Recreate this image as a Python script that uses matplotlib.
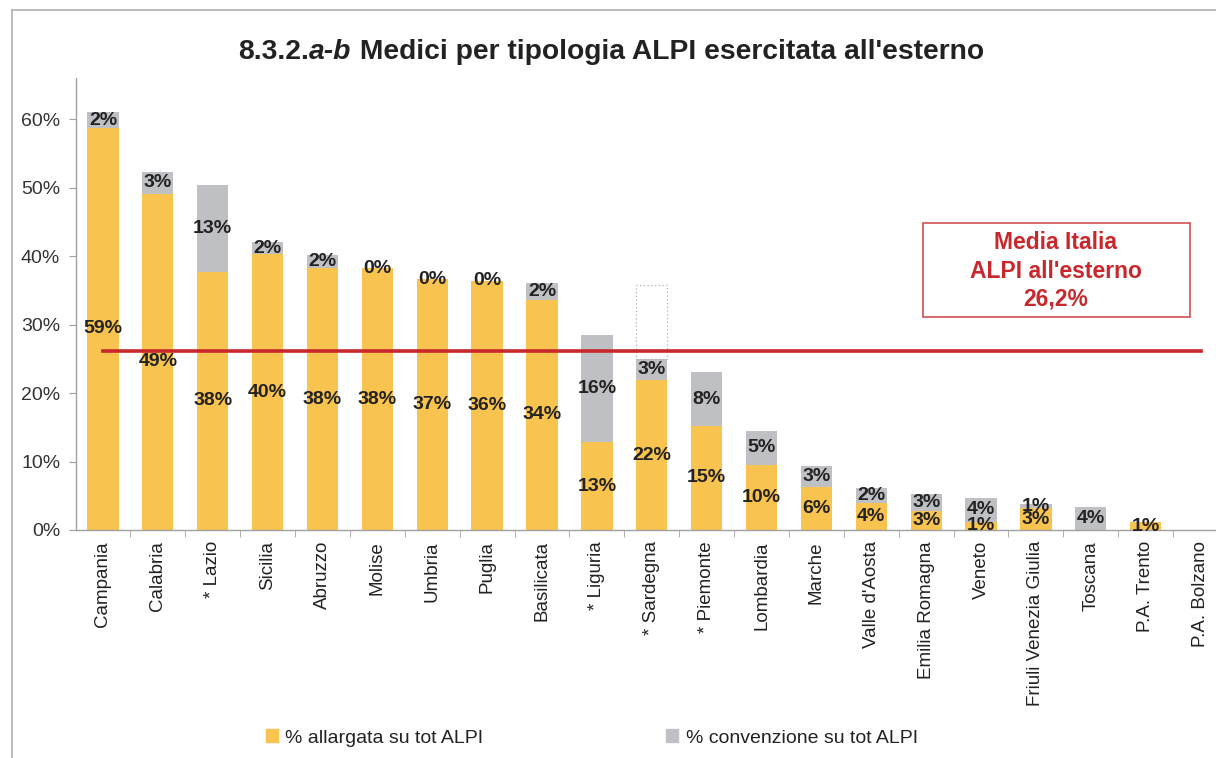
import matplotlib
matplotlib.use("Agg")
import matplotlib.pyplot as plt
from matplotlib.patches import Rectangle, Patch
from matplotlib.lines import Line2D

plt.rcParams['font.family'] = ['Liberation Sans', 'DejaVu Sans']

# data
regions = ["Campania", "Calabria", "* Lazio", "Sicilia", "Abruzzo", "Molise", "Umbria",
           "Puglia", "Basilicata", "* Liguria", "* Sardegna", "* Piemonte", "Lombardia",
           "Marche", "Valle d'Aosta", "Emilia Romagna", "Veneto", "Friuli Venezia Giulia",
           "Toscana", "P.A. Trento", "P.A. Bolzano"]
allargata = [58.7, 49.1, 37.7, 40.3, 38.2, 38.2, 36.6, 36.4, 33.6, 12.8, 21.9, 15.2, 9.5,
             6.3, 3.9, 2.8, 1.2, 3.2, 0.0, 1.1, 0.0]
convenzione = [2.3, 3.2, 12.7, 1.7, 1.9, 0.0, 0.0, 0.0, 2.4, 15.7, 3.0, 7.8, 5.0,
               3.05, 2.2, 2.5, 3.5, 0.6, 3.4, 0.0, 0.0]
allargata_lbl = [59, 49, 38, 40, 38, 38, 37, 36, 34, 13, 22, 15, 10, 6, 4, 3, 1, 3, None, 1, None]
convenzione_lbl = [2, 3, 13, 2, 2, 0, 0, 0, 2, 16, 3, 8, 5, 3, 2, 3, 4, 1, 4, None, None]
media_italia = 26.2
sardegna_outline = 35.8
yticks = [0, 10, 20, 30, 40, 50, 60]

YELLOW = "#F9C34F"
GRAY = "#BEC0C4"
RED = "#C8282C"
TXT = "#222222"

W, H = 1216, 758
fig = plt.figure(figsize=(W / 100, H / 100), dpi=100)

# axes placed in pixel terms
x0, x1 = 75.5, 1228.0
y_bottom, y_top = 530.0, 78.0
ax = fig.add_axes([x0 / W, (H - y_bottom) / H, (x1 - x0) / W, (y_bottom - y_top) / H])

x = list(range(len(regions)))
ax.bar(x, allargata, width=0.57, color=YELLOW, label="% allargata su tot ALPI")
ax.bar(x, convenzione, width=0.57, bottom=allargata, color=GRAY, label="% convenzione su tot ALPI")

# dotted outline above Sardegna
i_sar = regions.index("* Sardegna")
top_sar = allargata[i_sar] + convenzione[i_sar]
ax.add_patch(Rectangle((i_sar - 0.285, top_sar), 0.57, sardegna_outline - top_sar,
                       fill=False, edgecolor="#B0B0B0", linestyle=(0, (1, 2)), linewidth=0.9))

# data labels
for i in x:
    if allargata_lbl[i] is not None:
        ax.text(i, allargata[i] / 2, f"{allargata_lbl[i]}%", ha="center", va="center",
                fontsize=14, fontweight="bold", color=TXT, zorder=5)
    if convenzione_lbl[i] is not None:
        ax.text(i, allargata[i] + convenzione[i] / 2, f"{convenzione_lbl[i]}%", ha="center",
                va="center", fontsize=14, fontweight="bold", color=TXT, zorder=5)

# national average line
ax.plot([0, len(regions) - 1], [media_italia, media_italia], color=RED, linewidth=2.6, zorder=4)

ax.set_xlim(-0.5, len(regions) - 0.5)
ax.set_ylim(0, 66)
ax.set_yticks(yticks)
ax.set_yticklabels([f"{v}%" for v in yticks], fontsize=14, color="#333333")
ax.set_xticks(x)
ax.set_xticklabels(regions, rotation=90, fontsize=13.5, color="#222222")
ax.set_xticks([k + 0.5 for k in x[:-1]], minor=True)
ax.tick_params(axis="x", which="major", length=0, pad=8)
ax.tick_params(axis="x", which="minor", length=5, color="#A0A0A0")
ax.tick_params(axis="y", length=5, color="#A0A0A0", pad=6)
for side in ("top", "right"):
    ax.spines[side].set_visible(False)
for side in ("left", "bottom"):
    ax.spines[side].set_color("#A0A0A0")
    ax.spines[side].set_linewidth(1.0)

# box with the national average
fig.add_artist(Rectangle((923 / W, 1 - 317 / H), (1190 - 923) / W, (317 - 223) / H,
                         transform=fig.transFigure, facecolor="white", edgecolor="#D05050",
                         linewidth=1.2, zorder=6))
fig.text(1056 / W, 1 - 271 / H, "Media Italia\nALPI all'esterno\n26,2%", ha="center", va="center",
         fontsize=16.5, fontweight="bold", color=RED, linespacing=1.3, zorder=7)

# title with italic part
renderer = fig.canvas.get_renderer()
parts = [("8.3.2.", "normal"), ("a-b", "italic"), (" Medici per tipologia ALPI esercitata all'esterno", "normal")]
title_artists = []
xt = 0.0
for txt, style in parts:
    t = fig.text(xt, 1 - 52 / H, txt, ha="left", va="center", fontsize=20.3,
                 fontweight="bold", style=style, color="#222222")
    xt += t.get_window_extent(renderer=renderer).width / W
    title_artists.append(t)
shift = 611 / W - xt / 2
for t in title_artists:
    px, py = t.get_position()
    t.set_position((px + shift, py))

# legend
handles = [Patch(color=YELLOW), Patch(color=GRAY)]
fig.legend(handles, ["% allargata su tot ALPI", "% convenzione su tot ALPI"], ncol=2,
           loc="center", bbox_to_anchor=(592 / W, 20 / H), frameon=False, fontsize=14,
           handlelength=0.6, handleheight=0.6, handletextpad=0.4, columnspacing=9.4,
           labelcolor="#222222")

# outer frame
fig.add_artist(Line2D([12 / W, 12 / W], [0, 1 - 10 / H], color="#B0B0B0", linewidth=1.2,
                      transform=fig.transFigure))
fig.add_artist(Line2D([12 / W, 1], [1 - 10 / H, 1 - 10 / H], color="#B0B0B0", linewidth=1.2,
                      transform=fig.transFigure))

fig.savefig("out.png", dpi=100)
